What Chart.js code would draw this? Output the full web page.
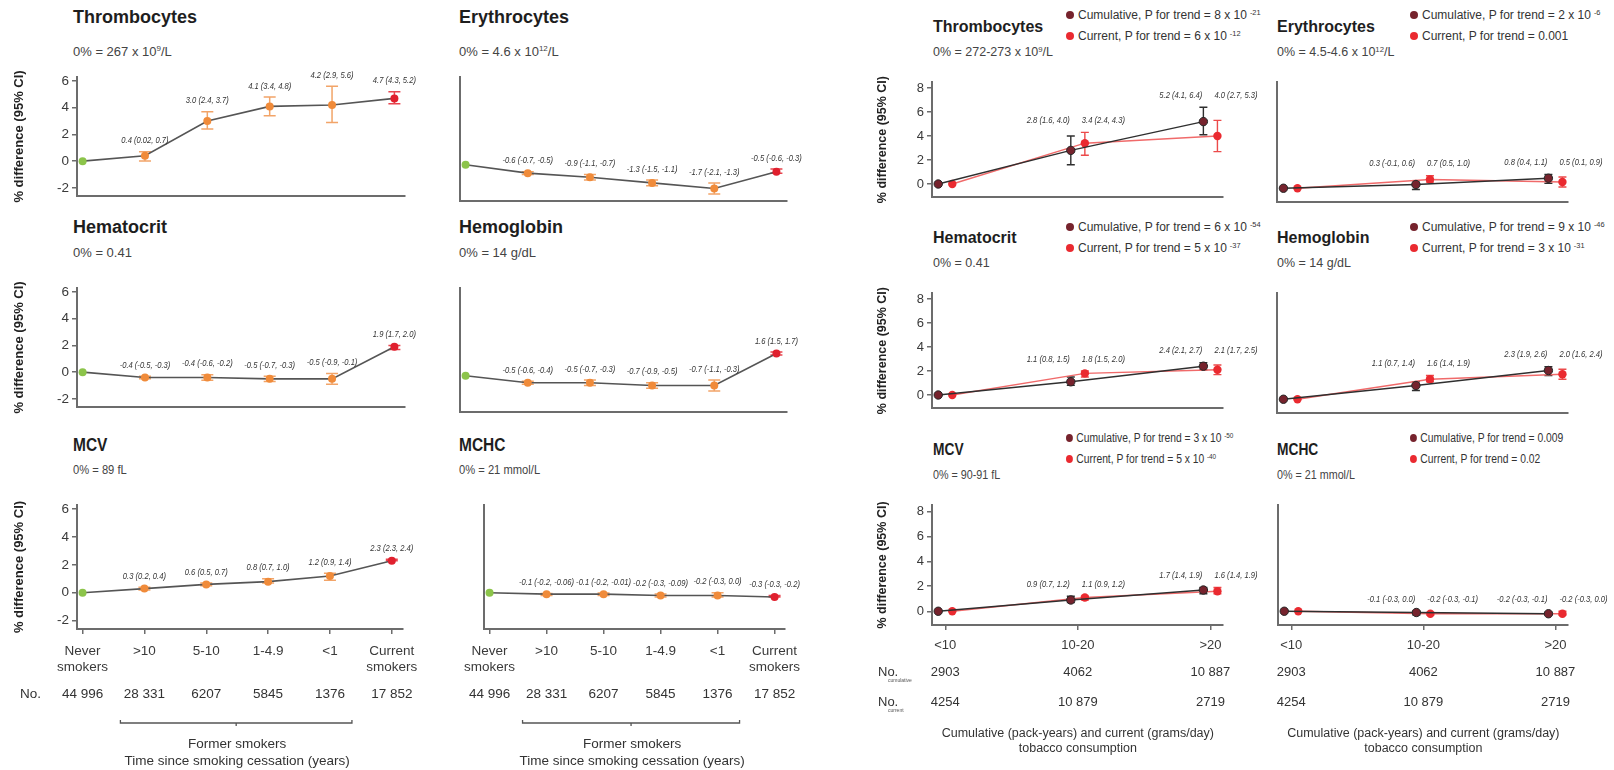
<!DOCTYPE html>
<html><head><meta charset="utf-8">
<script src="https://cdn.jsdelivr.net/npm/chart.js@4.4.1/dist/chart.umd.min.js"></script>
<style>
html,body{margin:0;padding:0;background:#fff;}
body{width:1614px;height:770px;position:relative;overflow:hidden;font-family:'Liberation Sans',Arial,sans-serif;color:#333;}
.abs{position:absolute;white-space:nowrap;line-height:1.15;transform:translateY(-50%);transform-origin:left center;}
.abs.nar{transform:translateY(-50%) scaleX(0.86);}
.tl{font-weight:bold;font-size:18px;color:#1e1e1e;}
.tr{font-weight:bold;font-size:16px;color:#1e1e1e;}
.sl{font-size:13px;color:#444;}
.sr{font-size:12.5px;color:#444;}
.lg{font-size:12px;color:#333;}
sup{font-size:0.62em;vertical-align:0.55em;line-height:0;}
.lg sup{margin-left:3px;}
.dot{display:inline-block;width:8px;height:8px;border-radius:50%;margin-right:4px;vertical-align:0px;}
canvas{position:absolute;}
</style></head>
<body>
<script>
// ---------------- DATA ----------------
const cessCategories = [['Never','smokers'], '>10', '5-10', '1-4.9', '<1', ['Current','smokers']];
const cessCounts = ['44 996', '28 331', '6207', '5845', '1376', '17 852'];
const consCategories = ['<10', '10-20', '>20'];
const consCountsCumulative = ['2903', '4062', '10 887'];
const consCountsCurrent = ['4254', '10 879', '2719'];
const leftYTicks = [-2, 0, 2, 4, 6];
const rightYTicks = [0, 2, 4, 6, 8];

// Time since smoking cessation: estimate, lower CI, upper CI
const thrCessEst = [0, 0.4, 3.0, 4.1, 4.2, 4.7];
const thrCessLo  = [null, 0.02, 2.4, 3.4, 2.9, 4.3];
const thrCessHi  = [null, 0.7, 3.7, 4.8, 5.6, 5.2];
const eryCessEst = [0, -0.6, -0.9, -1.3, -1.7, -0.5];
const eryCessLo  = [null, -0.7, -1.1, -1.5, -2.1, -0.6];
const eryCessHi  = [null, -0.5, -0.7, -1.1, -1.3, -0.3];
const hctCessEst = [0, -0.4, -0.4, -0.5, -0.5, 1.9];
const hctCessLo  = [null, -0.5, -0.6, -0.7, -0.9, 1.7];
const hctCessHi  = [null, -0.3, -0.2, -0.3, -0.1, 2.0];
const hgbCessEst = [0, -0.5, -0.5, -0.7, -0.7, 1.6];
const hgbCessLo  = [null, -0.6, -0.7, -0.9, -1.1, 1.5];
const hgbCessHi  = [null, -0.4, -0.3, -0.5, -0.3, 1.7];
const mcvCessEst = [0, 0.3, 0.6, 0.8, 1.2, 2.3];
const mcvCessLo  = [null, 0.2, 0.5, 0.7, 0.9, 2.3];
const mcvCessHi  = [null, 0.4, 0.7, 1.0, 1.4, 2.4];
const mchcCessEst = [0, -0.1, -0.1, -0.2, -0.2, -0.3];
const mchcCessLo  = [null, -0.2, -0.2, -0.3, -0.3, -0.3];
const mchcCessHi  = [null, -0.06, -0.01, -0.09, 0.0, -0.2];

// Cumulative (pack-years) and current (grams/day) consumption
const thrCumEst = [0, 2.8, 5.2];  const thrCumLo = [null, 1.6, 4.1];  const thrCumHi = [null, 4.0, 6.4];
const thrCurEst = [0, 3.4, 4.0];  const thrCurLo = [null, 2.4, 2.7];  const thrCurHi = [null, 4.3, 5.3];
const eryCumEst = [0, 0.3, 0.8];  const eryCumLo = [null, -0.1, 0.4]; const eryCumHi = [null, 0.6, 1.1];
const eryCurEst = [0, 0.7, 0.5];  const eryCurLo = [null, 0.5, 0.1];  const eryCurHi = [null, 1.0, 0.9];
const hctCumEst = [0, 1.1, 2.4];  const hctCumLo = [null, 0.8, 2.1];  const hctCumHi = [null, 1.5, 2.7];
const hctCurEst = [0, 1.8, 2.1];  const hctCurLo = [null, 1.5, 1.7];  const hctCurHi = [null, 2.0, 2.5];
const hgbCumEst = [0, 1.1, 2.3];  const hgbCumLo = [null, 0.7, 1.9];  const hgbCumHi = [null, 1.4, 2.6];
const hgbCurEst = [0, 1.6, 2.0];  const hgbCurLo = [null, 1.4, 1.6];  const hgbCurHi = [null, 1.9, 2.4];
const mcvCumEst = [0, 0.9, 1.7];  const mcvCumLo = [null, 0.7, 1.4];  const mcvCumHi = [null, 1.2, 1.9];
const mcvCurEst = [0, 1.1, 1.6];  const mcvCurLo = [null, 0.9, 1.4];  const mcvCurHi = [null, 1.2, 1.9];
const mchcCumEst = [0, -0.1, -0.2]; const mchcCumLo = [null, -0.3, -0.3]; const mchcCumHi = [null, 0.0, -0.1];
const mchcCurEst = [0, -0.2, -0.2]; const mchcCurLo = [null, -0.3, -0.3]; const mchcCurHi = [null, -0.1, 0.0];

const panelTitles = ['Thrombocytes', 'Erythrocytes', 'Hematocrit', 'Hemoglobin', 'MCV', 'MCHC'];
const leftRefs  = ['0% = 267 x 10<sup>9</sup>/L', '0% = 4.6 x 10<sup>12</sup>/L', '0% = 0.41', '0% = 14 g/dL', '0% = 89 fL', '0% = 21 mmol/L'];
const rightRefs = ['0% = 272-273 x 10<sup>9</sup>/L', '0% = 4.5-4.6 x 10<sup>12</sup>/L', '0% = 0.41', '0% = 14 g/dL', '0% = 90-91 fL', '0% = 21 mmol/L'];
const pTrendCumulative = ['8 x 10<sup>-21</sup>', '2 x 10<sup>-6</sup>', '6 x 10<sup>-54</sup>', '9 x 10<sup>-46</sup>', '3 x 10<sup>-50</sup>', '0.009'];
const pTrendCurrent    = ['6 x 10<sup>-12</sup>', '0.001', '5 x 10<sup>-37</sup>', '3 x 10<sup>-31</sup>', '5 x 10<sup>-40</sup>', '0.02'];

// ---------------- STYLE / LAYOUT ----------------
const AX = '#6c6c6c';
Chart.defaults.font.family = "'Liberation Sans', Arial, sans-serif";
Chart.defaults.color = '#3a3a3a';

const cessPointColors = ['#8cc44a', '#f08b3a', '#f08b3a', '#f08b3a', '#f08b3a', '#e0202e'];
const cessErrColors   = ['#f2a468', '#f2a468', '#f2a468', '#f2a468', '#f2a468', '#e8444e'];

const leftRows  = [{T:77, B:201}, {T:288, B:412}, {T:505, B:629}];
const rightRows = [{T:82, B:202}, {T:293, B:413}, {T:505, B:625}];
const colA = {L:77, R:405, cl:0}, colB = {L:460, R:787, cl:455};
const colC = {L:932, R:1223, cl:860}, colD = {L:1277, R:1568, cl:1272};

function fmt(v){ return Math.abs(Math.round(v*10)/10 - v) < 1e-9 ? v.toFixed(1) : v.toFixed(2); }
function narrowText(ctx, text, x, y, align, sx){
  ctx.save(); ctx.translate(x, y); ctx.scale(sx, 1); ctx.textAlign = align; ctx.fillText(text, 0, 0); ctx.restore();
}

const extras = {
  id: 'extras',
  beforeDatasetsDraw(chart){
    const ctx = chart.ctx, x = chart.scales.x, y = chart.scales.y;
    chart.data.datasets.forEach(ds => {
      const e = ds.err; if (!e) return;
      ctx.save(); ctx.lineWidth = e.width;
      ds.data.forEach((p, i) => {
        if (e.lo[i] == null) return;
        const px = x.getPixelForValue(p.x), a = y.getPixelForValue(e.lo[i]), b = y.getPixelForValue(e.hi[i]);
        ctx.strokeStyle = e.colors[i];
        ctx.beginPath();
        ctx.moveTo(px, a); ctx.lineTo(px, b);
        ctx.moveTo(px - e.cap, a); ctx.lineTo(px + e.cap, a);
        ctx.moveTo(px - e.cap, b); ctx.lineTo(px + e.cap, b);
        ctx.stroke();
      });
      ctx.restore();
    });
  },
  afterDatasetsDraw(chart, args, o){
    const ctx = chart.ctx, x = chart.scales.x, y = chart.scales.y;
    const dss = chart.data.datasets.filter(d => d.err);
    if (!dss.length) return;
    ctx.save(); ctx.font = o.labelFont; ctx.fillStyle = '#333'; ctx.textBaseline = 'middle';
    const n = dss[0].data.length;
    for (let i = 0; i < n; i++) {
      if (dss[0].err.lo[i] == null) continue;
      const top = Math.min(...dss.map(d => y.getPixelForValue(d.err.hi[i])));
      dss.forEach(d => {
        const px = x.getPixelForValue(d.data[i].x);
        narrowText(ctx, fmt(d.data[i].y) + ' (' + fmt(d.err.lo[i]) + ', ' + fmt(d.err.hi[i]) + ')',
                   px + d.err.dx, top - o.labelGap, d.err.align, 0.8);
      });
    }
    ctx.restore();
  },
  afterDraw(chart, args, o){
    const f = o.footer; if (!f) return;
    const ctx = chart.ctx, x = chart.scales.x, base = chart.chartArea.bottom, left = chart.chartArea.left;
    ctx.save();
    ctx.fillStyle = '#333'; ctx.textBaseline = 'middle';
    f.rows.forEach(r => {
      ctx.font = f.font; ctx.textAlign = 'center';
      r.values.forEach((v, i) => ctx.fillText(v, x.getPixelForValue(i), base + r.dy));
      if (f.showNo) {
        ctx.textAlign = 'left';
        ctx.fillText('No.', left + f.noDx, base + r.dy);
        if (r.sub) { ctx.font = "5px 'Liberation Sans',Arial"; ctx.fillStyle = '#555'; ctx.fillText(r.sub, left + f.noDx + 10, base + r.dy + 9); ctx.fillStyle = '#333'; }
      }
    });
    if (f.bracket) {
      const b = f.bracket, x1 = x.getPixelForValue(b.from) - 24, x2 = x.getPixelForValue(b.to) + 22, by = base + b.dy;
      const xm = (x1 + x2) / 2;
      ctx.strokeStyle = '#555'; ctx.lineWidth = 1.3;
      ctx.beginPath();
      ctx.moveTo(x1, by - 3); ctx.lineTo(x1, by); ctx.lineTo(x2, by); ctx.lineTo(x2, by - 3);
      ctx.moveTo(xm, by); ctx.lineTo(xm, by + 3);
      ctx.stroke();
    }
    ctx.font = f.capFont; ctx.textAlign = 'center';
    const cx = x.getPixelForValue(f.capAt);
    f.caption.forEach((t, k) => ctx.fillText(t, cx, base + f.capDy[k]));
    ctx.restore();
  }
};

function addText(html, x, y, cls){
  const d = document.createElement('div');
  d.className = 'abs ' + cls; d.style.left = x + 'px'; d.style.top = y + 'px'; d.innerHTML = html;
  document.body.appendChild(d);
}

function makePanel(s){
  const {col, row, side, bottom, yLabels, datasets, footer} = s;
  const padTop = 16, padRight = side === 'left' ? 22 : 45;
  const canvasBottom = bottom ? 770 : row.B + 6;
  const ct = row.T - padTop, cw = col.R + padRight - col.cl, ch = canvasBottom - ct;
  const cv = document.createElement('canvas');
  cv.width = cw; cv.height = ch;
  cv.style.left = col.cl + 'px'; cv.style.top = ct + 'px'; cv.style.width = cw + 'px'; cv.style.height = ch + 'px';
  document.body.appendChild(cv);
  const cats = side === 'left' ? cessCategories : consCategories;
  const yt = side === 'left' ? leftYTicks : rightYTicks;
  const fs = side === 'left' ? 13.5 : 13;
  new Chart(cv, {
    type: 'line',
    data: {datasets},
    options: {
      responsive: false, animation: false, events: [], devicePixelRatio: 1,
      layout: {padding: {left: 0, top: padTop, right: padRight, bottom: 0}},
      plugins: {
        legend: {display: false}, tooltip: {enabled: false},
        extras: {labelFont: "italic 9.5px 'Liberation Sans',Arial,sans-serif", labelGap: side === 'left' ? 11 : 12, footer}
      },
      scales: {
        x: {
          type: 'linear',
          min: side === 'left' ? -0.09 : -0.1,
          max: side === 'left' ? 5.17 : 2.095,
          afterBuildTicks: sc => { sc.ticks = cats.map((c, i) => ({value: i})); },
          ticks: {display: bottom, autoSkip: false, maxRotation: 0, minRotation: 0,
                  padding: side === 'left' ? 9 : 8, font: {size: fs}, color: '#3a3a3a',
                  callback: v => cats[v]},
          grid: {display: true, drawOnChartArea: false, drawTicks: bottom, tickLength: 5, color: AX, lineWidth: 1.5},
          border: {display: true, color: AX, width: 2},
          afterFit: sc => { sc.height = canvasBottom - row.B; }
        },
        y: {
          type: 'linear',
          min: side === 'left' ? -2.6 : -1.1,
          max: side === 'left' ? 6.3 : 8.5,
          afterBuildTicks: sc => { sc.ticks = yt.map(v => ({value: v})); },
          ticks: {display: yLabels, padding: 3, font: {size: fs}, color: '#3a3a3a'},
          grid: {display: true, drawOnChartArea: false, drawTicks: yLabels, tickLength: 5, color: AX, lineWidth: 1.5},
          border: {display: true, color: AX, width: 2},
          title: {display: yLabels, text: '% difference (95% CI)', color: '#222',
                  font: {size: side === 'left' ? 13 : 12.5, weight: 'bold'},
                  padding: {top: side === 'left' ? 12 : 15.5, bottom: 0}},
          afterFit: sc => { sc.width = col.L - col.cl; }
        }
      }
    },
    plugins: [extras]
  });
}

function cessDataset(est, lo, hi){
  return {
    data: est.map((v, i) => ({x: i, y: v})),
    borderColor: '#555', borderWidth: 1.6, tension: 0, clip: false,
    pointRadius: 4, pointBorderWidth: 0, pointBackgroundColor: cessPointColors,
    err: {lo, hi, colors: cessErrColors, cap: 6, width: 1.5, align: 'center', dx: 0}
  };
}
function consDatasets(cEst, cLo, cHi, uEst, uLo, uHi){
  return [
    {data: cEst.map((v, i) => ({x: i - 0.053, y: v})), borderColor: '#2f2f2f', borderWidth: 1.4, tension: 0, clip: false,
     pointRadius: 4.2, pointBorderWidth: 1, pointBorderColor: '#262626', pointBackgroundColor: '#76232d',
     err: {lo: cLo, hi: cHi, colors: cEst.map(() => '#2f2f2f'), cap: 4, width: 1.4, align: 'right', dx: -1}},
    {data: uEst.map((v, i) => ({x: i + 0.053, y: v})), borderColor: '#f06a6a', borderWidth: 1.4, tension: 0, clip: false,
     pointRadius: 4.2, pointBorderWidth: 0, pointBackgroundColor: '#ea2a30',
     err: {lo: uLo, hi: uHi, colors: uEst.map(() => '#ec4a4a'), cap: 4, width: 1.4, align: 'left', dx: -3}}
  ];
}

const cessSeries = [
  [thrCessEst, thrCessLo, thrCessHi], [eryCessEst, eryCessLo, eryCessHi],
  [hctCessEst, hctCessLo, hctCessHi], [hgbCessEst, hgbCessLo, hgbCessHi],
  [mcvCessEst, mcvCessLo, mcvCessHi], [mchcCessEst, mchcCessLo, mchcCessHi]
];
const consSeries = [
  [thrCumEst, thrCumLo, thrCumHi, thrCurEst, thrCurLo, thrCurHi],
  [eryCumEst, eryCumLo, eryCumHi, eryCurEst, eryCurLo, eryCurHi],
  [hctCumEst, hctCumLo, hctCumHi, hctCurEst, hctCurLo, hctCurHi],
  [hgbCumEst, hgbCumLo, hgbCumHi, hgbCurEst, hgbCurLo, hgbCurHi],
  [mcvCumEst, mcvCumLo, mcvCumHi, mcvCurEst, mcvCurLo, mcvCurHi],
  [mchcCumEst, mchcCumLo, mchcCumHi, mchcCurEst, mchcCurLo, mchcCurHi]
];

const leftTitleY = [17, 227, 445], leftSubY = [52, 253, 470];
const rightTitleY = [27, 238, 450], rightSubY = [52, 263, 475], rightLegY = [[16, 37], [228, 249], [439, 460]];

for (let k = 0; k < 6; k++) {
  const r = Math.floor(k / 2), c = k % 2;
  const bottom = r === 2;
  const nar = bottom ? ' nar' : '';
  // ----- left block -----
  const lcol = c === 0 ? colA : colB;
  addText(panelTitles[k], c === 0 ? 73 : 459, leftTitleY[r], 'tl' + nar);
  addText(leftRefs[k], c === 0 ? 73 : 459, leftSubY[r], 'sl' + nar);
  makePanel({
    col: lcol, row: leftRows[r], side: 'left', bottom, yLabels: c === 0,
    datasets: [cessDataset(...cessSeries[k])],
    footer: bottom ? {
      font: "13.5px 'Liberation Sans',Arial", capFont: "13.5px 'Liberation Sans',Arial", showNo: c === 0, noDx: -57,
      rows: [{values: cessCounts, dy: 65}],
      bracket: {from: 1, to: 4, dy: 94},
      caption: ['Former smokers', 'Time since smoking cessation (years)'], capDy: [115, 132], capAt: 2.5
    } : null
  });
  // ----- right block -----
  const rcol = c === 0 ? colC : colD;
  const tx = c === 0 ? 933 : 1277, lx = c === 0 ? 1066 : 1410;
  addText(panelTitles[k], tx, rightTitleY[r], 'tr' + nar);
  addText(rightRefs[k], tx, rightSubY[r], 'sr' + nar);
  addText('<span class="dot" style="background:#76232d"></span>Cumulative, P for trend = ' + pTrendCumulative[k], lx, rightLegY[r][0], 'lg' + nar);
  addText('<span class="dot" style="background:#ea2a30"></span>Current, P for trend = ' + pTrendCurrent[k], lx, rightLegY[r][1], 'lg' + nar);
  makePanel({
    col: rcol, row: rightRows[r], side: 'right', bottom, yLabels: c === 0,
    datasets: consDatasets(...consSeries[k]),
    footer: bottom ? {
      font: "13px 'Liberation Sans',Arial", capFont: "12.5px 'Liberation Sans',Arial", showNo: c === 0, noDx: -54,
      rows: [{values: consCountsCumulative, dy: 47, sub: 'cumulative'}, {values: consCountsCurrent, dy: 77, sub: 'current'}],
      caption: ['Cumulative (pack-years) and current (grams/day)', 'tobacco consumption'], capDy: [109, 124], capAt: 1
    } : null
  });
}
</script>
</body></html>
